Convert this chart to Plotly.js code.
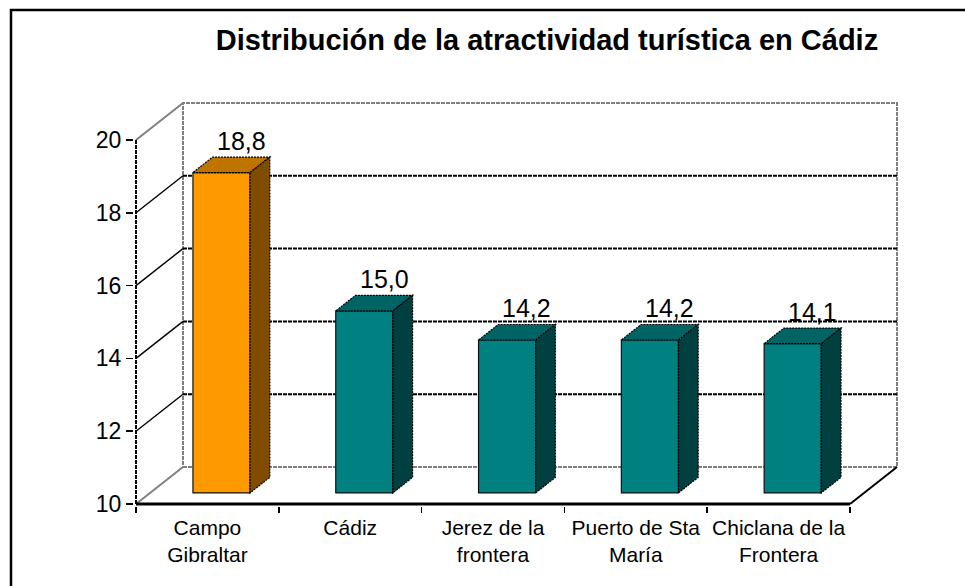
<!DOCTYPE html>
<html lang="es">
<head>
    <meta charset="UTF-8">
    <title>Distribución de la atractividad turística en Cádiz</title>
    <script src="https://cdn.plot.ly/plotly-3.0.1.min.js" charset="utf-8"></script>
    <style>
        body { margin: 0; background: #fff; }
        #chart { width: 965px; height: 586px; }
    </style>
</head>
<body>
<div id="chart"></div>
<script>
// data
const categories = ['Campo<br>Gibraltar', 'Cádiz', 'Jerez de la<br>frontera', 'Puerto de Sta<br>María', 'Chiclana de la<br>Frontera'];
const values = [18.8, 15.0, 14.2, 14.2, 14.1];
const yTicks = [10, 12, 14, 16, 18, 20];

// fake 3D geometry (pixels -> axis units)
const CAT_PX = 142.8, UNIT_PX = 36.4;
const DX = 47 / CAT_PX;      // full depth, x units
const DY = 37 / UNIT_PX;     // full depth, y units
const F = 0.3;               // depth where bar front face sits
const D = 0.42;              // bar depth
const HALF = 0.2;            // half bar width
const Y0 = 10, YMAX = 20;
const n = categories.length;
const left = -0.5, right = n - 0.5;

const orange = { front: '#FF9900', top: '#C07400', side: '#7F4C00' };
const teal = { front: '#008080', top: '#006464', side: '#004040' };
const palette = values.map((v, i) => i === 0 ? orange : teal);

const idx = values.map((v, i) => i);

const shapes = [];
const line = (x0, y0, x1, y1, color, width, dash, layer) => shapes.push({
    type: 'line', xref: 'x', yref: 'y', x0, y0, x1, y1, layer: layer || 'below',
    line: { color, width, dash: dash || 'solid' }
});

// back wall
shapes.push({
    type: 'rect', xref: 'x', yref: 'y', layer: 'below',
    x0: left + DX, x1: right + DX, y0: Y0 + DY, y1: YMAX + DY,
    line: { color: '#808080', width: 2, dash: '4px,1px' }
});
// back gridlines + side wall diagonals
yTicks.forEach(t => {
    const edge = (t === Y0 || t === YMAX);
    if (!edge) line(left + DX, t + DY, right + DX, t + DY, '#000', 2, '4px,1px');
    line(left, t, left + DX, t + DY, edge ? '#808080' : '#000', edge ? 2 : 1.4);
});
// floor edges and front axes
line(right, Y0, right + DX, Y0 + DY, '#000', 2);
line(left, Y0, right, Y0, '#000', 3, 'solid', 'above');
line(left, Y0, left, YMAX, '#000', 2, '4px,1px', 'above');

// bar top and side faces
const path = pts => 'M' + pts.map(p => p[0] + ',' + p[1]).join('L') + 'Z';
values.forEach((v, i) => {
    const x0 = i - HALF + F * DX, x1 = i + HALF + F * DX;
    const yb = Y0 + F * DY, yt = v + F * DY;
    const ox = D * DX, oy = D * DY;
    shapes.push({
        type: 'path', xref: 'x', yref: 'y', layer: 'above',
        path: path([[x0, yt], [x1, yt], [x1 + ox, yt + oy], [x0 + ox, yt + oy]]),
        fillcolor: palette[i].top, line: { color: '#000', width: 1.2, dash: '2px,1px' }
    });
    shapes.push({
        type: 'path', xref: 'x', yref: 'y', layer: 'above',
        path: path([[x1, yb], [x1, yt], [x1 + ox, yt + oy], [x1 + ox, yb + oy]]),
        fillcolor: palette[i].side, line: { color: '#000', width: 1.2, dash: '2px,1px' }
    });
});

// outer chart frame
shapes.push({
    type: 'rect', xref: 'paper', yref: 'paper', layer: 'below',
    x0: (11 - 134) / 765, x1: 1.2, y0: -0.3, y1: (506 - 10) / 405,
    line: { color: '#000', width: 2.5 }
});

const labels = values.map((v, i) => ({
    x: i + (F + D) * DX, y: v + (F + D) * DY,
    xref: 'x', yref: 'y', showarrow: false, yanchor: 'bottom', yshift: 0,
    text: v.toFixed(1).replace('.', ','),
    font: { family: 'Liberation Sans, Arial, sans-serif', size: 25, color: '#000' }
}));

const data = [{
    type: 'bar',
    x: idx,
    y: values.map(v => v - Y0),
    base: Y0 + F * DY,
    width: 2 * HALF,
    offset: -HALF + F * DX,
    marker: { color: palette.map(p => p.front), line: { color: '#111', width: 1.2 } },
    hoverinfo: 'skip'
}];

const layout = {
    width: 965, height: 586,
    margin: { l: 134, r: 66, t: 101, b: 80 },
    paper_bgcolor: '#fff', plot_bgcolor: 'rgba(0,0,0,0)',
    font: { family: 'Liberation Sans, Arial, sans-serif', color: '#000' },
    showlegend: false,
    title: {
        text: '<b>Distribución de la atractividad turística en Cádiz</b>',
        xref: 'container', yref: 'container', x: 547 / 965, y: 1 - 40 / 586,
        xanchor: 'center', yanchor: 'middle',
        font: { size: 29, color: '#000' }
    },
    xaxis: {
        range: [left - 2 / CAT_PX, right + DX + 2 / CAT_PX],
        tickmode: 'array', tickvals: idx, ticktext: categories,
        ticks: '', showgrid: false, zeroline: false, showline: false,
        tickfont: { size: 21 },
        minor: { tick0: -0.5, dtick: 1, ticks: 'outside', ticklen: 6, tickcolor: '#000', tickwidth: 1.5, showgrid: false },
        ticklabelstandoff: 7, fixedrange: true
    },
    yaxis: {
        range: [Y0 - 2 / UNIT_PX, Y0 + (506 - 101 - 2) / UNIT_PX],
        tickmode: 'array', tickvals: yTicks,
        ticks: 'outside', ticklen: 7, tickcolor: '#000', tickwidth: 1.5,
        showgrid: false, zeroline: false, showline: false,
        tickfont: { size: 23 }, fixedrange: true
    },
    shapes: shapes,
    annotations: labels
};

Plotly.newPlot('chart', data, layout, { displayModeBar: false, staticPlot: true });
</script>
</body>
</html>
